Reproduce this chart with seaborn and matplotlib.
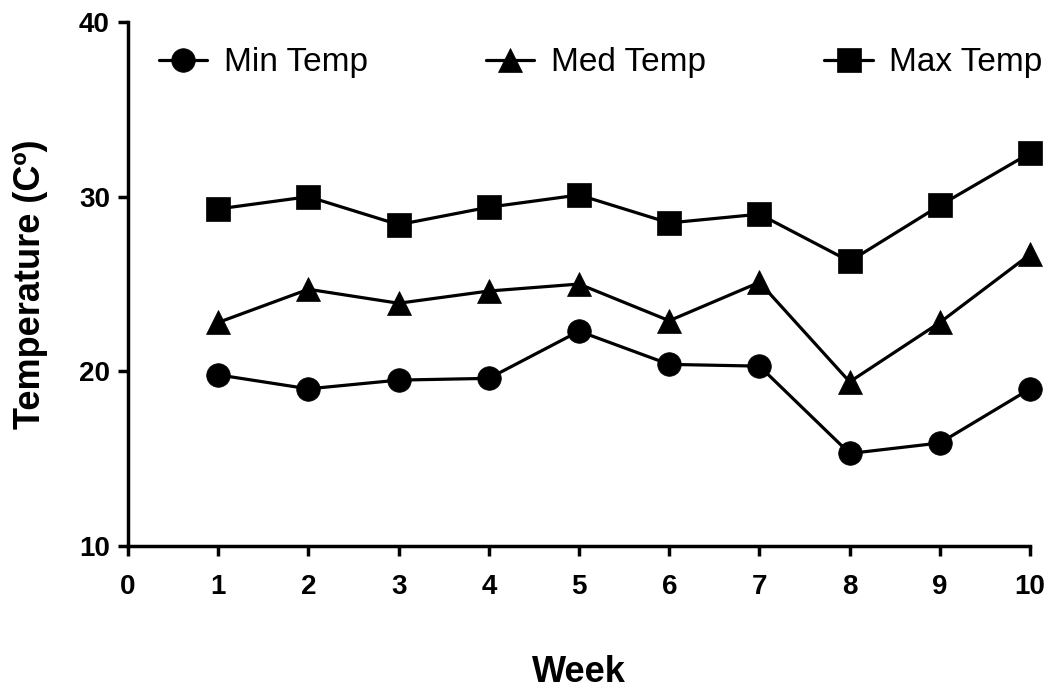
import matplotlib
matplotlib.use("Agg")
import matplotlib.pyplot as plt
import seaborn as sns
import pandas as pd

weeks = [1, 2, 3, 4, 5, 6, 7, 8, 9, 10]
min_temp = [19.8, 19.0, 19.5, 19.6, 22.3, 20.4, 20.3, 15.3, 15.9, 19.0]
med_temp = [22.8, 24.7, 23.9, 24.6, 25.0, 22.9, 25.1, 19.4, 22.8, 26.7]
max_temp = [29.3, 30.0, 28.4, 29.4, 30.1, 28.5, 29.0, 26.3, 29.5, 32.5]
series_names = ["Min Temp", "Med Temp", "Max Temp"]

df = pd.concat([
    pd.DataFrame({"Week": weeks, "Temp": vals, "Series": name})
    for name, vals in zip(series_names, [min_temp, med_temp, max_temp])
])

sns.set_theme(style="ticks")
plt.rcParams["font.family"] = ["Liberation Sans", "DejaVu Sans"]
plt.rcParams["text.color"] = "black"
plt.rcParams["axes.labelcolor"] = "black"

fig = plt.figure(figsize=(10.49, 6.89), dpi=100)
ax = fig.add_axes([0.122, 0.2075, 0.860, 0.7605])

sns.lineplot(data=df, x="Week", y="Temp", hue="Series", style="Series",
             markers={"Min Temp": "o", "Med Temp": "^", "Max Temp": "s"},
             dashes=False, palette=["black"] * 3, linewidth=2.3,
             markersize=17, markeredgecolor="black", markeredgewidth=0.5,
             ax=ax, sort=False, clip_on=False)

ax.set_xlim(0, 10)
ax.set_ylim(10, 40)
ax.set_xticks(range(0, 11))
ax.set_yticks([10, 20, 30, 40])
for side in ["top", "right"]:
    ax.spines[side].set_visible(False)
for side in ["left", "bottom"]:
    ax.spines[side].set_linewidth(2.5)
    ax.spines[side].set_color("black")
ax.tick_params(axis="both", direction="out", length=7, width=2.5, colors="black",
               labelsize=20)
ax.tick_params(axis="x", pad=13)
ax.tick_params(axis="y", pad=6)
for lab in ax.get_xticklabels() + ax.get_yticklabels():
    lab.set_fontweight("bold")

ax.set_xlabel("Week", fontsize=26, fontweight="bold", labelpad=40)
ax.set_ylabel("Temperature (Cº)", fontsize=26, fontweight="bold", labelpad=22)

handles, labels = ax.get_legend_handles_labels()
ax.legend(handles, labels, ncol=3, frameon=False, loc="center",
          bbox_to_anchor=(0.524, 0.922), fontsize=24, handlelength=1.45,
          columnspacing=3.55, handletextpad=0.5, markerscale=1.0)

fig.savefig("out.png", dpi=100)
